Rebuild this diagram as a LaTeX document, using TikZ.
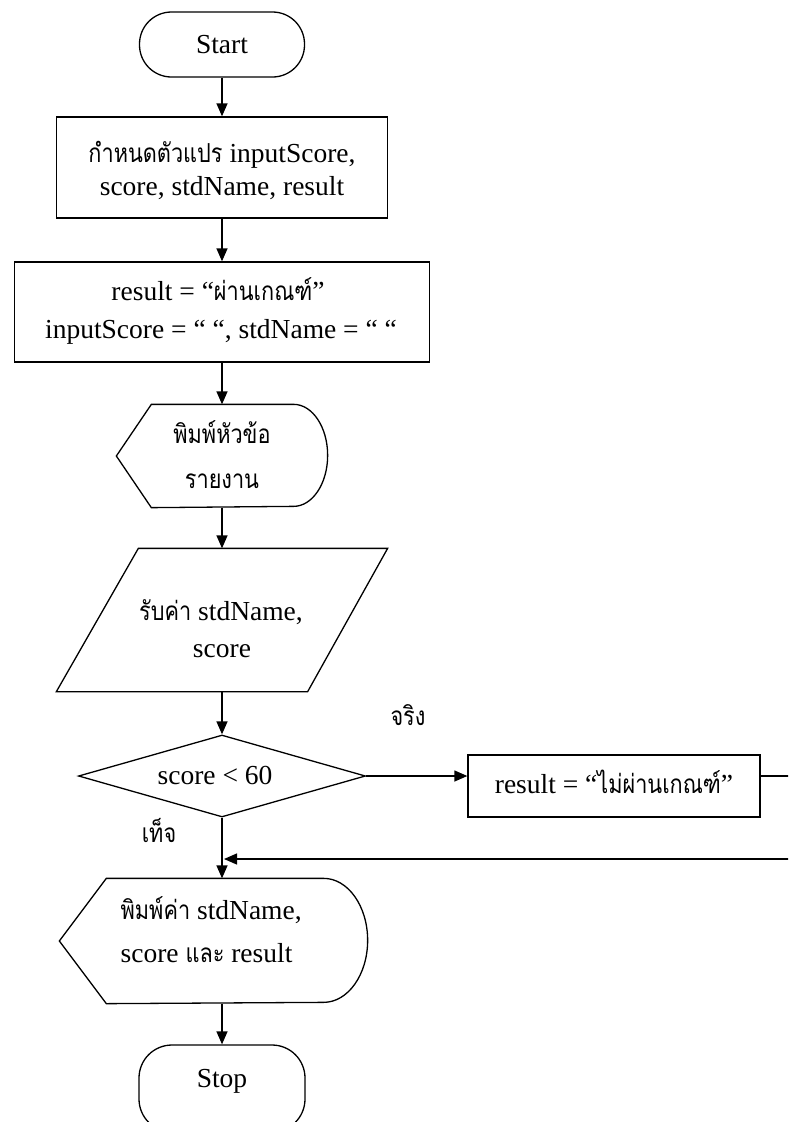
\documentclass[tikz,border=0pt]{standalone}
\usepackage{fontspec}
\setmainfont{Liberation Serif}
\newfontfamily\thaifont[Script=Thai,Scale=0.95,FakeStretch=0.83]{Loma}
\newcommand\tha[1]{{\thaifont #1}}
\usetikzlibrary{shapes.geometric,arrows.meta}
\begin{document}
\begin{tikzpicture}[x=1pt,y=1pt,
  line width=1.3pt,
  every node/.style={font=\fontsize{27.5}{30}\selectfont, inner sep=0pt},
  terminal/.style={draw, rounded corners=32pt, minimum width=165pt, minimum height=65pt},
  procbox/.style={draw},
  blank/.style={draw=none},
  txt/.style={anchor=base},
  flow/.style={-{Triangle[length=13pt,width=11pt]}}]
\useasboundingbox (0,0) rectangle (788,-1122);
\clip (0,0) rectangle (788,-1122);

% Start
\node[terminal] (start) at (222,-44.5) {Start};

% init box
\node[procbox, minimum width=331pt, minimum height=101pt] (init) at (222,-167.5) {};
\node[txt] (init1) at (222,-162) {\tha{กำหนดตัวแปร} inputScore,};
\node[txt] (init2) at (222,-195) {score, stdName, result};

% assign box
\node[procbox, minimum width=415pt, minimum height=100pt] (assign) at (222,-312) {};
\node[txt] (assign1) at (218,-300) {result = “\tha{ผ่านเกณฑ์}”};
\node[txt] (assign2) at (221,-338) {inputScore = “ “, stdName = “ “};

% display header
\node[blank, minimum width=210pt, minimum height=102pt] (head) at (222,-456) {};
\draw (head.west) -- ([xshift=35pt]head.north west) -- ([xshift=-34pt]head.north east)
  arc[start angle=90, end angle=-90, x radius=34pt, y radius=51pt]
  -- ([xshift=35pt]head.south west) -- cycle;
\node[txt] (head1) at (222,-443) {\tha{พิมพ์หัวข้อ}};
\node[txt] (head2) at (222,-488) {\tha{รายงาน}};

% input parallelogram
\node[blank, minimum width=330pt, minimum height=142pt] (input) at (222,-620) {};
\draw ([xshift=82pt]input.north west) -- (input.north east)
  -- ([xshift=-80pt]input.south east) -- (input.south west) -- cycle;
\node[txt] (input1) at (221,-620) {\tha{รับค่า} stdName,};
\node[txt] (input2) at (222,-657) {score};

% decision
\node[draw, diamond, minimum width=287pt, minimum height=82pt] (dec) at (222,-776) {};
\node[txt] (dectxt) at (215,-784) {score < 60};
\node[txt] (yes) at (408,-725) {\tha{จริง}};
\node[txt] (no) at (159,-842) {\tha{เท็จ}};

% result box
\node[procbox, minimum width=292pt, minimum height=62pt] (res) at (614,-786) {};
\node[txt] (restxt) at (614,-793) {result = “\tha{ไม่ผ่านเกณฑ์}”};

% output display
\node[blank, minimum width=307pt, minimum height=124pt] (out) at (213.5,-941) {};
\draw (out.west) -- ([xshift=47pt]out.north west) -- ([xshift=-44pt]out.north east)
  arc[start angle=90, end angle=-90, x radius=44pt, y radius=62pt]
  -- ([xshift=47pt]out.south west) -- cycle;
\node[txt, anchor=base west] (out1) at (120,-919) {\tha{พิมพ์ค่า} stdName,};
\node[txt, anchor=base west] (out2) at (120,-962) {score \tha{และ} result};

% Stop
\node[terminal, rounded corners=33pt, minimum width=166pt, minimum height=87pt] (stop) at (222,-1088.5) {};
\node[txt] (stoptxt) at (222,-1087) {Stop};

% connectors
\coordinate (merge) at (224,-859);
\coordinate (offA) at (800,-776);
\coordinate (offB) at (800,-859);
\draw[flow] (start.south) -- (init.north);
\draw[flow] (init.south) -- (assign.north);
\draw[flow] (assign.south) -- (head.north);
\draw[flow] (head.south) -- (input.north);
\draw[flow] (input.south) -- (dec.north);
\draw[flow] (dec.east) -- (dec.east -| res.west);
\draw[flow] (res.east |- dec.east) -- (offA) -- (offB) -- (merge);
\draw[flow] (dec.south) -- (dec.south |- out.north);
\draw[flow] (stop.north |- out.south) -- (stop.north);
\end{tikzpicture}
\end{document}
